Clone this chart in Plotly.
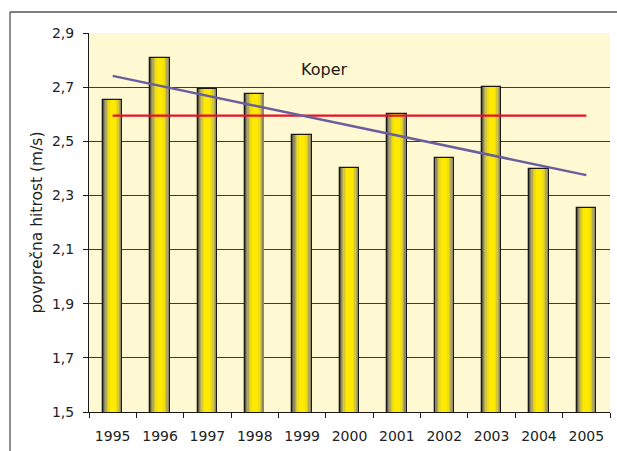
import numpy as np
import plotly.graph_objects as go

# Annual mean wind speed at Koper
years = ["1995", "1996", "1997", "1998", "1999", "2000",
         "2001", "2002", "2003", "2004", "2005"]
speed = [2.654, 2.807, 2.694, 2.675, 2.525, 2.400,
         2.600, 2.437, 2.700, 2.397, 2.252]
long_term_mean = 2.595

y_ticks = [1.5, 1.7, 1.9, 2.1, 2.3, 2.5, 2.7, 2.9]
y_tick_text = [f"{v:.1f}".replace(".", ",") for v in y_ticks]

# linear trend through the annual values
idx = np.arange(len(speed))
slope, intercept = np.polyfit(idx, speed, 1)
trend = [intercept, intercept + slope * idx[-1]]

fig = go.Figure()

# cylinder-like shading: nested overlaid bars, darkest outside, brightest in the middle
shades = [
    (0.41, "#5f5b3d"),
    (0.37, "#8e895e"),
    (0.32, "#b2a956"),
    (0.26, "#d5c832"),
    (0.20, "#efdd12"),
    (0.13, "#ffe900"),
]
for i, (w, col) in enumerate(shades):
    fig.add_trace(go.Bar(
        x=years, y=speed, width=w,
        marker=dict(color=col,
                    line=dict(color="#1a1a1a", width=1.3 if i == 0 else 0)),
        showlegend=False, hoverinfo="skip" if i else "x+y",
    ))

fig.add_trace(go.Scatter(
    x=[years[0], years[-1]], y=[long_term_mean, long_term_mean],
    mode="lines", line=dict(color="#e8102a", width=2.2),
    showlegend=False,
))
fig.add_trace(go.Scatter(
    x=[years[0], years[-1]], y=trend,
    mode="lines", line=dict(color="#6a5e9e", width=2.5),
    showlegend=False,
))

font_family = "DejaVu Sans, Verdana, sans-serif"

fig.update_layout(
    width=617, height=451,
    margin=dict(l=89, r=7, t=33, b=37),
    paper_bgcolor="white",
    plot_bgcolor="#fef8d3",
    barmode="overlay",
    bargap=0,
    font=dict(family=font_family, size=14, color="#222222"),
    xaxis=dict(
        type="category",
        showline=True, linecolor="#1a1a1a", linewidth=1,
        ticks="outside", ticklen=5, tickcolor="#1a1a1a",
        tickson="boundaries",
        ticklabelstandoff=11,
        showgrid=False,
        tickfont=dict(size=14),
    ),
    yaxis=dict(
        range=[1.5, 2.9],
        tickvals=y_ticks, ticktext=y_tick_text,
        showline=True, linecolor="#1a1a1a", linewidth=1,
        ticks="outside", ticklen=5, tickcolor="#1a1a1a",
        ticklabelstandoff=6,
        showgrid=True, gridcolor="#3a3a3a", gridwidth=1,
        zeroline=False,
        tickfont=dict(size=14),
        title=dict(text="povprečna hitrost (m/s)", font=dict(size=15.5), standoff=5),
    ),
    annotations=[dict(
        text="Koper", xref="paper", yref="paper",
        x=0.451, y=0.935, showarrow=False,
        font=dict(size=16, color="#1a1a1a"),
    )],
    shapes=[
        dict(type="line", xref="paper", yref="paper",
             x0=-0.1516, x1=1.02, y0=1.0551, y1=1.0551,
             line=dict(color="#555555", width=1.5)),
        dict(type="line", xref="paper", yref="paper",
             x0=-0.1516, x1=-0.1516, y0=1.0551, y1=-0.11,
             line=dict(color="#444444", width=1.2)),
    ],
)

fig.write_html("out.html")
